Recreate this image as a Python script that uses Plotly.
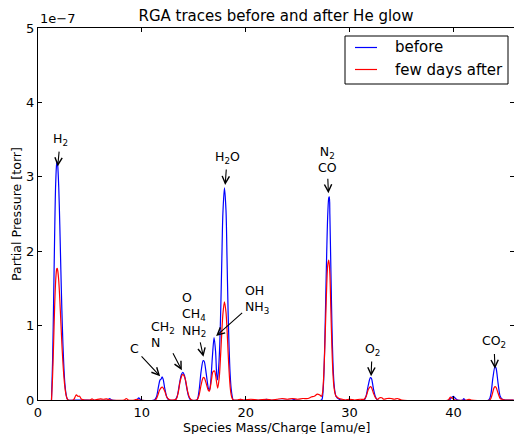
import plotly.graph_objects as go

# ---------------- data (pressure in units of 1e-7 torr) ----------------
before_mass = [
    1.3, 1.4, 1.5, 1.6, 1.7, 1.8, 1.85, 1.9, 2.0, 2.1, 2.2, 2.3, 2.4, 2.5, 2.6, 2.7, 2.8, 2.9,
    4.0, 6.7, 6.9, 7.1, 9.5, 9.7, 9.9, 11.2,
    11.4, 11.6, 11.75, 11.85, 11.95, 12.05, 12.2, 12.4, 12.6,
    13.2, 13.4, 13.6, 13.8, 13.95, 14.1, 14.3, 14.5, 14.7,
    15.3, 15.5, 15.7, 15.9, 16.0, 16.2, 16.4, 16.5, 16.6, 16.8, 16.95, 17.1, 17.2, 17.28,
    17.4, 17.5, 17.6, 17.7, 17.8, 17.95, 18.1, 18.2, 18.3, 18.4, 18.5, 18.6, 18.7, 18.8,
    19.4, 19.5, 19.6, 21.8, 22.0, 22.2, 24.5, 24.6, 24.8,
    27.3, 27.4, 27.5, 27.6, 27.7, 27.8, 27.9, 28.0, 28.05, 28.1, 28.2, 28.3, 28.4, 28.5,
    28.6, 28.7, 28.8, 29.0, 29.2,
    29.8, 29.9, 30.0, 31.4,
    31.6, 31.8, 32.0, 32.1, 32.3, 32.5, 32.7,
    39.6, 39.8, 40.0, 40.2, 40.4, 40.9, 41.0, 41.1, 43.4,
    43.6, 43.8, 44.0, 44.1, 44.3, 44.5, 44.7, 45.0, 45.8,
]
before_p = [
    0, 0.5, 1.3, 2.2, 2.9, 3.18, 3.2, 3.15, 2.85, 2.35, 1.75, 1.2, 0.75, 0.42, 0.2, 0.08, 0.02, 0,
    0, 0, 0.02, 0, 0, 0.03, 0, 0,
    0.04, 0.18, 0.27, 0.28, 0.31, 0.28, 0.16, 0.04, 0,
    0, 0.05, 0.2, 0.34, 0.37, 0.33, 0.18, 0.05, 0,
    0, 0.12, 0.38, 0.53, 0.52, 0.35, 0.16, 0.13, 0.2, 0.6, 0.84, 0.65, 0.35, 0.27,
    0.45, 0.75, 1.25, 1.9, 2.5, 2.85, 2.55, 1.9, 1.2, 0.7, 0.35, 0.15, 0.05, 0,
    0, 0.01, 0, 0, 0.01, 0, 0, 0.01, 0,
    0, 0.05, 0.25, 0.7, 1.35, 2.0, 2.5, 2.72, 2.73, 2.5, 1.75, 1.0, 0.5, 0.22,
    0.1, 0.05, 0.03, 0.01, 0,
    0, 0.01, 0, 0,
    0.06, 0.2, 0.3, 0.29, 0.15, 0.04, 0,
    0, 0.03, 0.05, 0.02, 0, 0, 0.02, 0, 0,
    0.08, 0.3, 0.45, 0.43, 0.22, 0.05, 0.01, 0, 0,
]

after_mass = [
    1.3, 1.4, 1.5, 1.6, 1.7, 1.8, 1.85, 1.9, 2.0, 2.1, 2.2, 2.3, 2.4, 2.5, 2.6, 2.7, 2.8, 2.9,
    3.4, 3.6, 3.7, 3.85, 4.0, 4.2, 4.5, 5.0, 5.2, 5.4, 6.0, 6.3, 6.6, 7.0, 8.3, 8.5, 8.7,
    9.3, 9.5, 9.7, 11.3,
    11.5, 11.7, 11.9, 12.0, 12.2, 12.4, 12.6, 12.8, 13.3,
    13.5, 13.7, 13.9, 14.0, 14.2, 14.4, 14.6, 14.8, 15.3,
    15.5, 15.7, 15.9, 16.0, 16.2, 16.4, 16.5, 16.7, 16.85, 17.0, 17.1, 17.3,
    17.45, 17.6, 17.8, 17.95, 18.1, 18.2, 18.3, 18.4, 18.5, 18.6, 18.7, 18.8,
    19.2, 19.5, 19.8, 20.5, 21.2, 22.0, 22.5, 23.0, 23.5, 24.0, 24.5, 25.0, 25.5, 26.0,
    26.3, 26.6, 26.9, 27.1, 27.3,
    27.4, 27.5, 27.6, 27.7, 27.8, 27.9, 28.0, 28.1, 28.2, 28.3, 28.4, 28.5, 28.6, 28.7,
    28.8, 29.0, 29.3, 29.6,
    30.0, 30.5, 31.0, 31.4,
    31.6, 31.8, 32.0, 32.1, 32.3, 32.5, 32.7, 32.9, 33.1, 33.3, 33.6, 34.0, 34.3, 34.6, 35.0,
    39.5, 39.7, 39.85, 40.0, 40.2, 41.3, 41.5, 41.7, 43.5,
    43.7, 43.9, 44.0, 44.1, 44.3, 44.5, 44.7, 44.9, 45.8,
]
after_p = [
    0, 0.3, 0.75, 1.25, 1.6, 1.76, 1.77, 1.74, 1.6, 1.35, 1.05, 0.75, 0.5, 0.3, 0.16, 0.07, 0.02, 0,
    0, 0.05, 0.07, 0.05, 0.05, 0.01, 0, 0, 0.015, 0, 0.015, 0.01, 0.015, 0, 0, 0.02, 0,
    0, 0.01, 0, 0,
    0.05, 0.13, 0.17, 0.17, 0.12, 0.04, 0.01, 0, 0.01,
    0.1, 0.26, 0.34, 0.34, 0.27, 0.12, 0.03, 0, 0,
    0.06, 0.2, 0.3, 0.3, 0.22, 0.13, 0.12, 0.27, 0.38, 0.39, 0.33, 0.16,
    0.3, 0.65, 1.15, 1.32, 1.18, 0.95, 0.65, 0.38, 0.18, 0.07, 0.02, 0,
    0, 0.01, 0, 0.01, 0, 0.01, 0, 0.01, 0.02, 0.01, 0.02, 0.01, 0.02, 0.02,
    0.04, 0.05, 0.08, 0.07, 0.05,
    0.1, 0.3, 0.65, 1.1, 1.55, 1.82, 1.88, 1.7, 1.2, 0.7, 0.35, 0.17, 0.09, 0.05,
    0.04, 0.02, 0.01, 0,
    0.01, 0, 0.01, 0.01,
    0.05, 0.14, 0.18, 0.17, 0.09, 0.03, 0.01, 0.03, 0.03, 0.01, 0.02, 0.02, 0.01, 0.02, 0,
    0, 0.04, 0.03, 0.01, 0, 0, 0.01, 0, 0,
    0.06, 0.16, 0.18, 0.17, 0.09, 0.02, 0.01, 0, 0,
]

series_names = ["before", "few days after"]
series_colors = ["#0000ff", "#ff0000"]

x_ticks = [0, 10, 20, 30, 40]
y_ticks = [0, 1, 2, 3, 4, 5]

# annotation: text, head (x, y), text centre (x, y), alignment
labels = [
    ("H<sub>2</sub>", 1.9, 3.14, 2.14, 3.50, "center"),
    ("H<sub>2</sub>O", 18.02, 2.89, 18.21, 3.26, "center"),
    ("N<sub>2</sub><br>CO", 27.96, 2.78, 27.83, 3.23, "center"),
    ("C", 11.76, 0.32, 9.26, 0.69, "center"),
    ("CH<sub>2</sub><br>N", 13.85, 0.40, 12.05, 0.88, "left"),
    ("O<br>CH<sub>4</sub><br>NH<sub>2</sub>", 15.93, 0.58, 15.03, 1.15, "left"),
    ("OH<br>NH<sub>3</sub>", 17.15, 0.86, 21.1, 1.35, "left"),
    ("O<sub>2</sub>", 32.07, 0.32, 32.17, 0.68, "center"),
    ("CO<sub>2</sub>", 44.0, 0.42, 43.9, 0.78, "center"),
]

assert len(before_mass) == len(before_p)
assert len(after_mass) == len(after_p)

FONT = "DejaVu Sans"

fig = go.Figure()
for name, xs, ys, col in [
    (series_names[0], before_mass, before_p, series_colors[0]),
    (series_names[1], after_mass, after_p, series_colors[1]),
]:
    fig.add_trace(go.Scatter(
        x=xs, y=ys, mode="lines", name=name, showlegend=False,
        line=dict(color=col, width=1.2, shape="spline", smoothing=0.8),
    ))

annotations = []
for text, hx, hy, tx, ty, al in labels:
    annotations.append(dict(
        text=text, x=hx, y=hy, ax=tx, ay=ty, xref="x", yref="y", axref="x", ayref="y",
        showarrow=True, arrowhead=5, arrowsize=1.3, arrowwidth=1.1, arrowcolor="black",
        align=al, font=dict(family=FONT, size=12.5, color="black"),
        standoff=0, startstandoff=2,
    ))

annotations += [
    dict(text="1e\u22127", xref="paper", yref="paper", x=0, y=1, xanchor="left", yanchor="bottom",
         showarrow=False, font=dict(family=FONT, size=13, color="black"), yshift=0),
    dict(text="Species Mass/Charge [amu/e]", xref="paper", yref="paper", x=0.5, y=0,
         xanchor="center", yanchor="middle", yshift=-27, showarrow=False,
         font=dict(family=FONT, size=12.6, color="black")),
    dict(text="Partial Pressure [torr]", xref="paper", yref="paper", x=0, y=0.5,
         xanchor="center", yanchor="middle", xshift=-22, textangle=-90, showarrow=False,
         font=dict(family=FONT, size=12.6, color="black")),
]

# ---- custom legend box (matplotlib style) ----
PLOT_L, PLOT_W, PLOT_B, PLOT_H = 38, 476, 400, 372
def px_x(p):
    return (p - PLOT_L) / PLOT_W
def px_y(p):
    return (PLOT_B - p) / PLOT_H

shapes = [dict(type="rect", xref="paper", yref="paper",
               x0=px_x(345), x1=px_x(508), y0=px_y(84), y1=px_y(36),
               line=dict(color="black", width=1), fillcolor="white", layer="above")]
legend_rows = [47.5, 69.5]
for name, col, row in zip(series_names, series_colors, legend_rows):
    shapes.append(dict(type="line", xref="paper", yref="paper",
                       x0=px_x(355), x1=px_x(377), y0=px_y(row), y1=px_y(row),
                       line=dict(color=col, width=1.2), layer="above"))
    annotations.append(dict(text=name, xref="paper", yref="paper", x=px_x(393), y=px_y(row),
                            xanchor="left", yanchor="middle", showarrow=False,
                            font=dict(family=FONT, size=15, color="black")))

fig.update_layout(
    width=514, height=434,
    margin=dict(l=38, r=0, t=28, b=34),
    paper_bgcolor="white", plot_bgcolor="white",
    font=dict(family=FONT, size=13, color="black"),
    title=dict(text="RGA traces before and after He glow", x=0.5, xref="paper",
               y=1 - 16 / 434, yref="container", xanchor="center", yanchor="middle",
               font=dict(family=FONT, size=15, color="black")),
    showlegend=False,
    annotations=annotations,
    shapes=shapes,
)

axis_common = dict(showline=True, linecolor="black", linewidth=1, mirror="ticks",
                   ticks="inside", ticklen=4, tickcolor="black", tickwidth=1,
                   showgrid=False, zeroline=False,
                   tickfont=dict(family=FONT, size=13, color="black"))
fig.update_xaxes(range=[0, 45.83], tickvals=x_ticks, ticktext=[str(v) for v in x_ticks], **axis_common)
fig.update_yaxes(range=[0, 5], tickvals=y_ticks, ticktext=[str(v) for v in y_ticks], **axis_common)

fig.write_html("out.html")
